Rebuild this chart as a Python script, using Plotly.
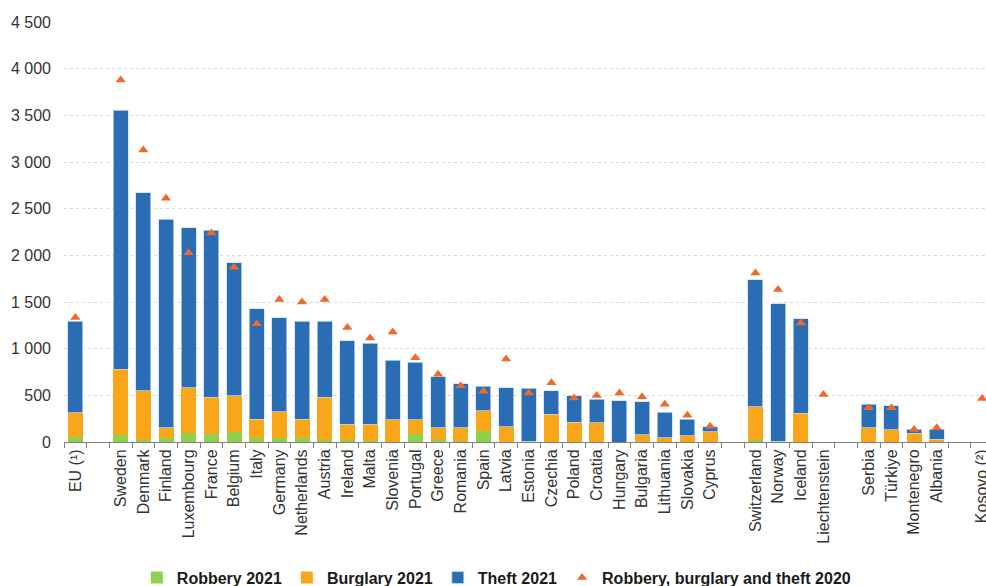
import plotly.graph_objects as go

categories = ["EU (¹)", " ",
              "Sweden", "Denmark", "Finland", "Luxembourg", "France", "Belgium", "Italy",
              "Germany", "Netherlands", "Austria", "Ireland", "Malta", "Slovenia", "Portugal",
              "Greece", "Romania", "Spain", "Latvia", "Estonia", "Czechia", "Poland", "Croatia",
              "Hungary", "Bulgaria", "Lithuania", "Slovakia", "Cyprus", "  ",
              "Switzerland", "Norway", "Iceland", "Liechtenstein", "   ",
              "Serbia", "Türkiye", "Montenegro", "Albania", "    ",
              "Kosovo (²)"]

robbery_2021 = [50, None,
                72, 21, 40, 97, 90, 104, 40,
                40, 40, 21, 18, 15, 5, 86,
                18, 15, 115, 3, 10, 5, 5, 5,
                0, 3, 3, 3, 3, None,
                18, 10, 5, None, None,
                5, 5, 3, 3, None,
                None]

burglary_2021 = [265, None,
                 707, 526, 114, 482, 389, 389, 206,
                 285, 206, 459, 174, 177, 235, 154,
                 136, 139, 220, 158, 0, 295, 206, 199,
                 0, 76, 44, 65, 108, None,
                 361, 0, 302, None, None,
                 149, 128, 90, 26, None,
                 None]

theft_2021 = [978, None,
              2778, 2125, 2235, 1714, 1789, 1425, 1183,
              1004, 1047, 813, 894, 866, 635, 617,
              543, 471, 262, 421, 565, 247, 286, 253,
              443, 350, 271, 178, 54, None,
              1357, 1473, 1015, None, None,
              253, 253, 46, 110, None,
              None]

total_2020 = [1335, None,
              3878, 3128, 2611, 2029, 2240, 1872, 1268,
              1526, 1500, 1526, 1226, 1115, 1179, 904,
              725, 604, 543, 890, 525, 636, 471, 497,
              525, 486, 404, 286, 168, None,
              1811, 1633, 1275, 508, None,
              368, 368, 133, 154, None,
              465]

y_ticks = [0, 500, 1000, 1500, 2000, 2500, 3000, 3500, 4000, 4500]

FONT = "Liberation Sans, Arial, sans-serif"
GREEN = "#8fd14f"
ORANGE = "#f9a61b"
BLUE = "#2a6db5"
TRI = "#ee6a2a"

fig = go.Figure()
bar_line = dict(width=0.8, color="rgba(200,220,245,0.9)")
fig.add_trace(go.Bar(x=categories, y=robbery_2021, name="Robbery 2021",
                     marker=dict(color=GREEN, line=dict(width=0)), width=0.66))
fig.add_trace(go.Bar(x=categories, y=burglary_2021, name="Burglary 2021",
                     marker=dict(color=ORANGE, line=dict(width=0)), width=0.66))
fig.add_trace(go.Bar(x=categories, y=theft_2021, name="Theft 2021",
                     marker=dict(color=BLUE, line=bar_line), width=0.66))
fig.add_trace(go.Scatter(x=categories, y=total_2020, name="Robbery, burglary and theft 2020",
                         mode="markers", cliponaxis=False,
                         marker=dict(symbol="triangle-up", size=9, color=TRI)))

fig.update_layout(
    width=986, height=586,
    barmode="stack",
    bargap=0.34,
    separators=". ",
    plot_bgcolor="white", paper_bgcolor="white",
    margin=dict(l=64, r=0, t=22, b=144, autoexpand=False),
    font=dict(family=FONT, size=16, color="#333333"),
    showlegend=True,
    legend=dict(orientation="h", x=0.079, xanchor="left", y=-0.323, yanchor="middle",
                traceorder="normal",
                font=dict(family=FONT, size=16, color="#1a1a1a", weight="bold"),
                itemwidth=30, tracegroupgap=0, bgcolor="rgba(0,0,0,0)"),
    xaxis=dict(type="category", categoryorder="array", categoryarray=categories,
               range=[-0.5, 40.17], tickangle=-90, tickson="boundaries",
               ticks="outside", ticklen=5, tickcolor="#808080", automargin=False,
               showline=True, linecolor="#808080", linewidth=1,
               showgrid=False, tickfont=dict(family=FONT, size=16, color="#333333")),
    yaxis=dict(range=[0, 4500], tickvals=y_ticks, tickformat=",d", automargin=False,
               showgrid=True, gridcolor="#d9d9d9", griddash="dot", gridwidth=1,
               zeroline=False, showline=False, ticklabelstandoff=12,
               tickfont=dict(family=FONT, size=16, color="#333333")),
)

fig.write_html("out.html", config={"displayModeBar": False},
               post_script="document.body.style.margin='0';document.body.style.overflow='hidden';")
